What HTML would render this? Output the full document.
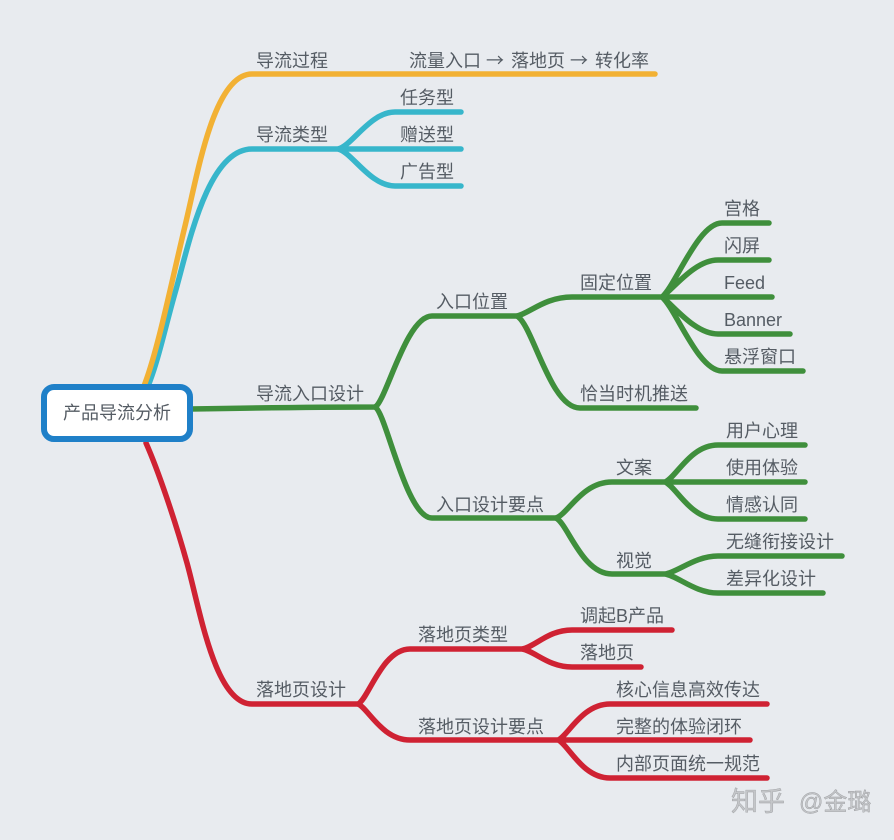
<!DOCTYPE html>
<html><head><meta charset="utf-8"><style>
html,body{margin:0;padding:0;background:#e8ebef}
svg{display:block}
text{font-family:"Liberation Sans","Noto Sans CJK SC",sans-serif;font-size:18px;fill:#555c64}
path{fill:none;stroke-width:5.5;stroke-linecap:round;stroke-linejoin:round}
.y{stroke:#f2b134}.t{stroke:#37b6cb}.g{stroke:#3f8f3c}.r{stroke:#cf2233}
</style></head><body>
<svg width="894" height="840" viewBox="0 0 894 840" xmlns="http://www.w3.org/2000/svg">
<rect width="894" height="840" fill="#e8ebef"/>
<path class="t" d="M148 386C158 362 165 328 175 293C188 248 207 149 252 149H338C352 146 370 112 395 112H461M338 149H461M338 149C352 152 370 186 395 186H461"/>
<path class="y" d="M144 386C158 350 172 280 185 226C198 172 214 74 252 74H655"/>
<path class="g" d="M190 409C250 408 310 407 375 407C386 402 406 316 432 316H517C530 313 545 297 572 297H662C676 285 698 223 722 223H769M662 297C674 288 695 260 718 260H769M662 297H772M662 297C674 306 695 334 718 334H790M662 297C676 309 698 371 722 371H803"/>
<path class="g" d="M517 316C533 325 550 408 580 408H696"/>
<path class="g" d="M375 407C386 412 406 518 432 518H556C568 514 582 482 612 482H665C676 478 690 445 718 445H805M665 482H805M665 482C676 486 690 519 718 519H805"/>
<path class="g" d="M556 518C568 524 582 574 612 574H665C678 572 695 556 718 556H842M665 574C678 576 695 593 718 593H823"/>
<path class="r" d="M146 443C158 470 175 520 187 563C200 610 215 704 252 704H358C368 700 382 649 410 649H522C535 647 548 630 572 630H672M522 649C535 651 548 667 572 667H641"/>
<path class="r" d="M358 704C368 708 382 740 410 740H558C568 736 582 704 610 704H767M558 740H750M558 740C568 744 582 778 610 778H767"/>
<rect x="44" y="387" width="146" height="52" rx="10" ry="10" fill="#fff" stroke="#1f80c8" stroke-width="6"/>
<text x="63" y="419">产品导流分析</text>
<text x="256" y="67">导流过程</text>
<text x="409" y="67">流量入口</text><text x="486" y="67" style="font-family:'Noto Sans CJK SC',sans-serif">→</text><text x="511" y="67">落地页</text><text x="570" y="67" style="font-family:'Noto Sans CJK SC',sans-serif">→</text><text x="595" y="67">转化率</text>
<text x="256" y="141">导流类型</text>
<text x="400" y="104">任务型</text><text x="400" y="141">赠送型</text><text x="400" y="178">广告型</text>
<text x="256" y="400">导流入口设计</text>
<text x="436" y="308">入口位置</text>
<text x="580" y="289">固定位置</text>
<text x="724" y="215">宫格</text><text x="724" y="252">闪屏</text><text x="724" y="289">Feed</text><text x="724" y="326">Banner</text><text x="724" y="363">悬浮窗口</text>
<text x="580" y="400">恰当时机推送</text>
<text x="436" y="511">入口设计要点</text>
<text x="616" y="474">文案</text><text x="616" y="567">视觉</text>
<text x="726" y="437">用户心理</text><text x="726" y="474">使用体验</text><text x="726" y="511">情感认同</text><text x="726" y="548">无缝衔接设计</text><text x="726" y="585">差异化设计</text>
<text x="256" y="696">落地页设计</text>
<text x="418" y="641">落地页类型</text><text x="418" y="733">落地页设计要点</text>
<text x="580" y="622">调起B产品</text><text x="580" y="659">落地页</text>
<text x="616" y="696">核心信息高效传达</text><text x="616" y="733">完整的体验闭环</text><text x="616" y="770">内部页面统一规范</text>
<text x="731" y="811" style="font-size:27px;fill:#c4c6c9;stroke:#9a9c9f;stroke-width:.4">知乎</text>
<text x="799" y="810" style="font-size:24px;fill:#c4c6c9;stroke:#9a9c9f;stroke-width:.4">@金璐</text>
</svg>
</body></html>
